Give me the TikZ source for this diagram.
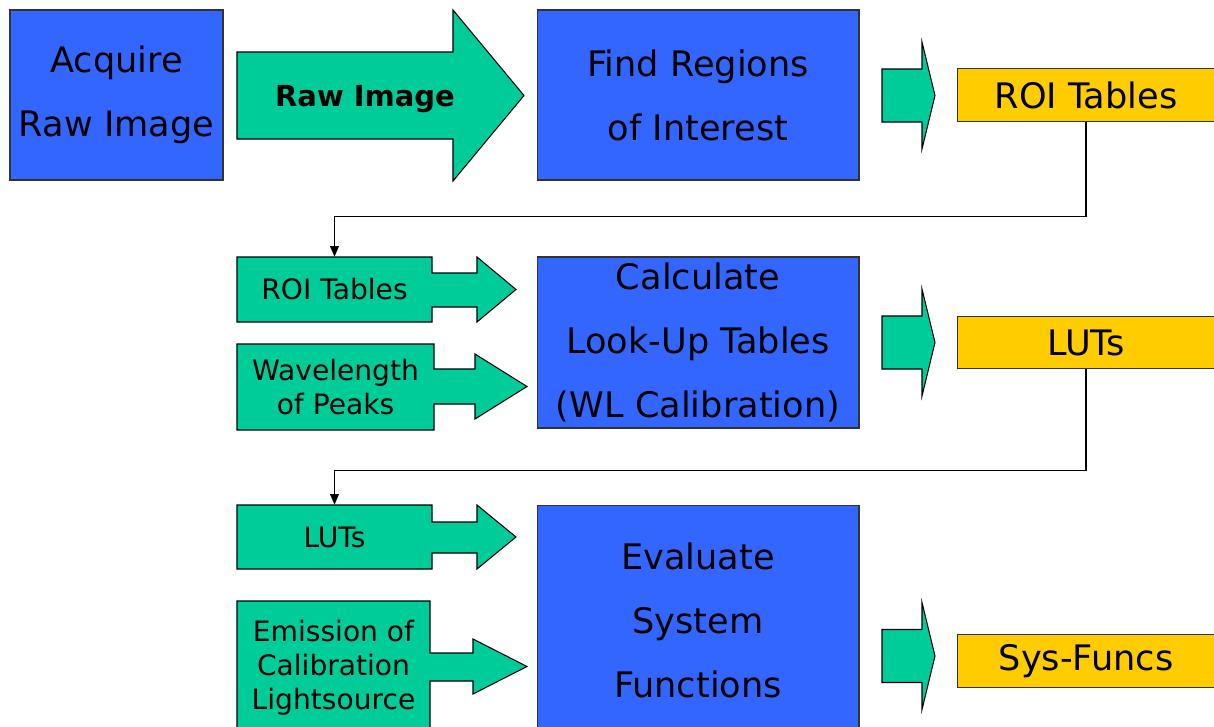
\documentclass[tikz,border=0pt]{standalone}
\usepackage{fontspec}
\setmainfont{DejaVu Sans}
\usetikzlibrary{arrows.meta,positioning}
\definecolor{procblue}{HTML}{3366FF}
\definecolor{datagreen}{HTML}{00CC99}
\definecolor{outyellow}{HTML}{FFCC00}
\tikzset{
    process/.style={draw=black!80, fill=procblue, line width=0.6pt, minimum width=6.44cm, align=center, font=\fontsize{20}{36.4}\selectfont},
    result/.style={draw=black!80, fill=outyellow, line width=0.6pt, minimum width=5.16cm, minimum height=1.05cm, font=\fontsize{20}{24}\selectfont},
    flow/.style={draw=black, fill=datagreen, line width=0.6pt, line join=miter},
    inlabel/.style={align=center, inner sep=0pt, font=\fontsize{16}{19.4}\selectfont},
    link/.style={draw=black, line width=0.7pt, -{Triangle[length=6pt,width=5pt]}}
}
\begin{document}
\begin{tikzpicture}[x=0.02cm, y=-0.02cm]
    \useasboundingbox (0,0) rectangle (1214,727);
    \clip (0,0) rectangle (1214,727);

    % step 1: acquire
    \node[process, minimum width=4.26cm, minimum height=3.4cm] (acquire) at (116.5,95) {Acquire\\Raw Image};
    \draw[flow] (237,52) -- (453,52) -- (453,10) -- (524,95.5) -- (453,181) -- (453,139) -- (237,139) -- cycle;
    \node[font=\fontsize{16.5}{20}\selectfont\bfseries] (rawimg) at (365,99) {Raw Image};
    \node[process, minimum height=3.4cm] (regions) at (698,95) {Find Regions\\of Interest};

    % outputs on the right
    \foreach \y in {95.5, 342.5, 656} {
        \draw[flow] (882,{\y-26.5}) -- (922,{\y-26.5}) -- (922,{\y-53.5}) -- (935,\y) -- (922,{\y+53.5}) -- (922,{\y+26.5}) -- (882,{\y+26.5}) -- cycle;
    }
    \node[result] (roiout) at (1086,95) {ROI Tables};
    \node[result] (lutout) at (1086,342.5) {LUTs};
    \node[result] (sysout) at (1086,661) {Sys-Funcs};

    % step 2: calibration
    \draw[flow] (237,257) -- (432,257) -- (432,273) -- (477,273) -- (477,257) -- (516,289.5) -- (477,322) -- (477,307) -- (432,307) -- (432,322) -- (237,322) -- cycle;
    \node[inlabel, minimum width=3.9cm, minimum height=1.3cm] (roiin) at (334.5,289.5) {ROI Tables};
    \draw[flow] (237,344) -- (434,344) -- (434,369) -- (475,369) -- (475,354) -- (527,386.5) -- (475,419) -- (475,404) -- (434,404) -- (434,430) -- (237,430) -- cycle;
    \node[inlabel, minimum width=3.94cm, minimum height=1.72cm] (wlin) at (335.5,387) {Wavelength\\of Peaks};
    \node[process, minimum height=3.42cm] (calc) at (698,342.5) {Calculate\\Look-Up Tables\\(WL Calibration)};

    % step 3: system functions
    \draw[flow] (237,505) -- (432,505) -- (432,522) -- (477,522) -- (477,505) -- (516,537) -- (477,569) -- (477,553) -- (432,553) -- (432,569) -- (237,569) -- cycle;
    \node[inlabel, minimum width=3.9cm, minimum height=1.28cm] (lutin) at (334.5,537) {LUTs};
    \draw[flow] (237,601) -- (430,601) -- (430,653) -- (473,653) -- (473,639) -- (527,666.5) -- (473,694) -- (473,681) -- (430,681) -- (430,735) -- (237,735) -- cycle;
    \node[inlabel, minimum width=3.86cm, minimum height=2.68cm] (emin) at (333.5,668) {Emission of\\Calibration\\Lightsource};
    \node[process, minimum height=4.6cm] (evalsys) at (698,620) {Evaluate\\System\\Functions};

    % feedback of the tables
    \draw[link] (roiout.south) -- ++(0,95) -| (roiin.north);
    \draw[link] (lutout.south) -- ++(0,101) -| (lutin.north);
\end{tikzpicture}
\end{document}
